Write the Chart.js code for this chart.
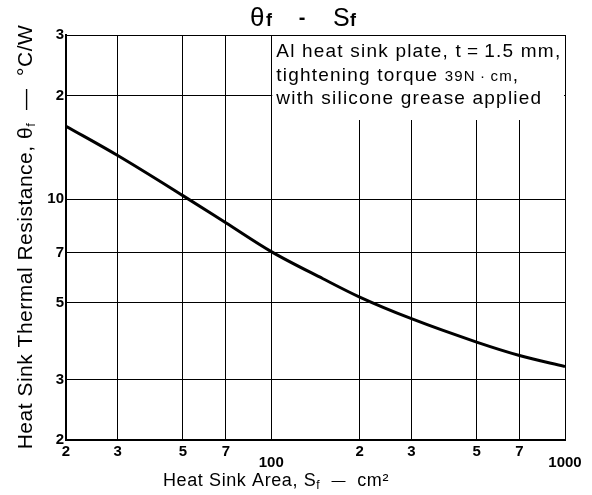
<!DOCTYPE html>
<html><head><meta charset="utf-8">
<script src="https://cdn.jsdelivr.net/npm/chart.js@4"></script>
<style>html,body{margin:0;padding:0;background:#fff}#wrap{width:592px;height:495px}</style>
</head><body><div id="wrap"><canvas id="c" width="592" height="495"></canvas></div>
<script>
// ---- data ----
const areaValues = [20, 30, 50, 70, 100, 150, 200, 300, 500, 700, 1000];
const resistanceValues = [16.3, 13.4, 10.25, 8.55, 7.05, 5.88, 5.2, 4.5, 3.85, 3.52, 3.27];
const xTickValues = [20, 30, 50, 70, 100, 200, 300, 500, 700, 1000];
const xTickLabels = ['2', '3', '5', '7', ['', '100'], '2', '3', '5', '7', ['', '1000']];
const yTickValues = [2, 3, 5, 7, 10, 20, 30];
const yTickLabels = ['2', '3', '5', '7', '10', '2', '3'];
const noteLines = [
  [{t: 'Al heat sink plate, t\u2009=\u20091.5 mm,'}],
  [{t: 'tightening torque '}, {t: '39N\u2009\u00B7\u2009cm', small: true}, {t: ','}],
  [{t: 'with silicone grease applied'}]
];

const FAM = '"Liberation Sans", Arial, Helvetica, sans-serif';

function runsWidth(ctx, runs) {
  let w = 0;
  for (const r of runs) { ctx.font = r.font; w += ctx.measureText(r.t).width; }
  return w;
}
function drawRuns(ctx, x, y, runs) {
  for (const r of runs) {
    ctx.font = r.font;
    ctx.fillText(r.t, x, y + (r.dy || 0));
    x += ctx.measureText(r.t).width;
  }
}

const decorPlugin = {
  id: 'decor',
  beforeDatasetsDraw(chart) {
    const ctx = chart.ctx, a = chart.chartArea, xs = chart.scales.x;
    const bx = xs.getPixelForValue(100);
    ctx.save();
    ctx.fillStyle = '#fff';
    ctx.fillRect(bx + 1, a.top + 1, a.right - bx - 2, 84);
    ctx.fillStyle = '#000';
    ctx.textBaseline = 'alphabetic';
    ctx.letterSpacing = '1.2px';
    noteLines.forEach((line, i) => {
      const runs = line.map(r => ({t: r.t, font: (r.small ? '15px ' : '19px ') + FAM}));
      drawRuns(ctx, bx + 5, a.top + 22 + i * 23.5, runs);
    });
    ctx.restore();
  },
  afterDraw(chart) {
    const ctx = chart.ctx;
    ctx.save();
    ctx.fillStyle = '#000';
    ctx.textBaseline = 'alphabetic';
    ctx.letterSpacing = '0px';
    // title
    const cx = 302, ty = 26;
    ctx.textAlign = 'left';
    ctx.font = '26px ' + FAM; ctx.fillText('\u03B8', cx - 52, ty);
    ctx.font = 'bold 18px ' + FAM; ctx.fillText('f', cx - 36, ty);
    ctx.font = 'bold 20px ' + FAM; ctx.textAlign = 'center'; ctx.fillText('-', cx, ty - 2);
    ctx.textAlign = 'left';
    ctx.font = '25px ' + FAM; ctx.fillText('S', cx + 31, ty);
    ctx.font = 'bold 18px ' + FAM; ctx.fillText('f', cx + 48, ty);

    // x title
    ctx.letterSpacing = '0.6px';
    const f = '18px ' + FAM, fs = '12px ' + FAM;
    const xRuns = [{t: 'Heat Sink Area, S', font: f}, {t: 'f', font: fs, dy: 3},
      {t: '  ', font: f}, {t: '\u2014', font: '14px ' + FAM, dy: -1}, {t: '  cm\u00B2', font: f}];
    drawRuns(ctx, 163, 486, xRuns);
    // y title
    ctx.letterSpacing = '0.5px';
    const fy = '21px ' + FAM, fys = '13px ' + FAM;
    const yRuns = [{t: 'Heat Sink Thermal Resistance, \u03B8', font: fy}, {t: 'f', font: fys, dy: 3},
      {t: '  \u2014  \u00B0C/W', font: fy}];
    const yw = runsWidth(ctx, yRuns);
    ctx.translate(32, 237);
    ctx.rotate(-Math.PI / 2);
    drawRuns(ctx, -yw / 2, 0, yRuns);
    ctx.restore();
  }
};

const tickFont = {family: FAM, size: 15, weight: 'bold', lineHeight: 0.7};

new Chart(document.getElementById('c'), {
  type: 'line',
  data: {
    datasets: [{
      data: areaValues.map((v, i) => ({x: v, y: resistanceValues[i]})),
      borderColor: '#000', borderWidth: 3, pointRadius: 0,
      cubicInterpolationMode: 'monotone', fill: false
    }]
  },
  options: {
    responsive: false, animation: false, devicePixelRatio: 1,
    layout: {padding: {left: 0, top: 35, right: 27, bottom: 0}},
    plugins: {legend: {display: false}, tooltip: {enabled: false}, title: {display: false}},
    scales: {
      x: {
        type: 'logarithmic', min: 20, max: 1000,
        afterBuildTicks(s) { s.ticks = xTickValues.map(v => ({value: v})); },
        afterFit(s) { s.height = 55; },
        ticks: {
          color: '#000', font: tickFont, padding: 7, maxRotation: 0, autoSkip: false,
          callback(v) { const i = xTickValues.indexOf(v); return i >= 0 ? xTickLabels[i] : ''; }
        },
        grid: {color: '#000', lineWidth: 1, drawTicks: false},
        border: {color: '#000', width: 2}
      },
      y: {
        type: 'logarithmic', min: 2, max: 30,
        afterBuildTicks(s) { s.ticks = yTickValues.map(v => ({value: v})); },
        afterFit(s) { s.width = 66; },
        ticks: {
          color: '#000', font: {family: FAM, size: 15, weight: 'bold'}, padding: 2, autoSkip: false,
          callback(v) { const i = yTickValues.indexOf(v); return i >= 0 ? yTickLabels[i] : ''; }
        },
        grid: {color: '#000', lineWidth: 1, drawTicks: false},
        border: {color: '#000', width: 2}
      }
    }
  },
  plugins: [decorPlugin]
});
</script>
</body></html>
